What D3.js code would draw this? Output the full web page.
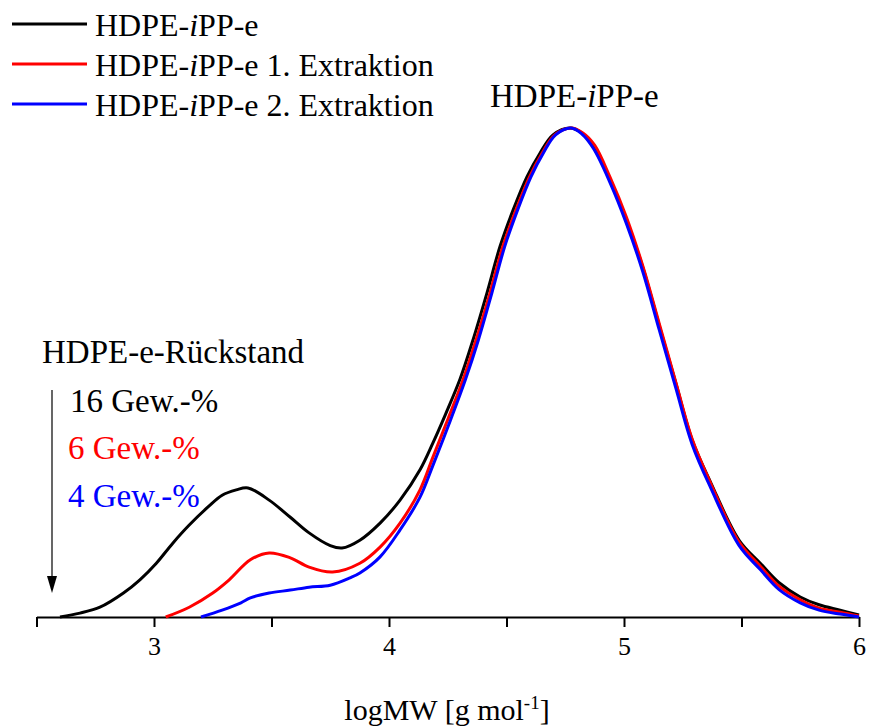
<!DOCTYPE html>
<html>
<head>
<meta charset="utf-8">
<script src="https://cdn.jsdelivr.net/npm/d3@7"></script>
<style>
  body { margin: 0; background: #fff; }
  text { font-family: "Liberation Serif", "Times New Roman", serif; }
</style>
</head>
<body>
<svg id="chart"></svg>
<script>
// logMW values, w(logM) normalised to main peak = 1
const blackX = [2.60, 2.685, 2.77, 2.87, 2.94, 3.01, 3.08, 3.15, 3.23, 3.29, 3.35, 3.40, 3.49, 3.58, 3.66, 3.75, 3.80, 3.876, 3.962, 4.047, 4.132, 4.187, 4.24, 4.302, 4.357, 4.417, 4.472, 4.528, 4.587, 4.643, 4.698, 4.77, 4.82, 4.87, 4.94, 5.01, 5.08, 5.15, 5.22, 5.29, 5.37, 5.49, 5.58, 5.66, 5.75, 5.83, 5.92, 6.0];
const blackY = [0.0, 0.008, 0.020, 0.049, 0.076, 0.110, 0.151, 0.188, 0.225, 0.249, 0.260, 0.264, 0.239, 0.204, 0.172, 0.146, 0.141, 0.157, 0.192, 0.239, 0.301, 0.356, 0.414, 0.486, 0.566, 0.663, 0.757, 0.832, 0.900, 0.949, 0.986, 1.0, 0.99, 0.961, 0.894, 0.812, 0.715, 0.596, 0.479, 0.362, 0.274, 0.157, 0.110, 0.070, 0.041, 0.025, 0.014, 0.004];

const redX = [3.05, 3.15, 3.25, 3.32, 3.41, 3.49, 3.58, 3.66, 3.76, 3.876, 3.962, 4.047, 4.132, 4.187, 4.251, 4.315, 4.370, 4.430, 4.484, 4.540, 4.598, 4.652, 4.705, 4.775, 4.825, 4.875, 4.94, 5.01, 5.08, 5.15, 5.22, 5.29, 5.37, 5.49, 5.58, 5.66, 5.75, 5.83, 5.92, 6.0];
const redY = [0.0, 0.020, 0.049, 0.076, 0.117, 0.131, 0.121, 0.102, 0.092, 0.110, 0.143, 0.192, 0.260, 0.327, 0.405, 0.485, 0.566, 0.663, 0.757, 0.832, 0.900, 0.949, 0.986, 1.0, 0.99, 0.965, 0.900, 0.818, 0.718, 0.600, 0.481, 0.364, 0.272, 0.153, 0.104, 0.063, 0.035, 0.018, 0.010, 0.002];

const blueX = [3.20, 3.29, 3.37, 3.41, 3.49, 3.58, 3.66, 3.75, 3.834, 3.876, 3.962, 4.047, 4.132, 4.187, 4.262, 4.325, 4.380, 4.438, 4.492, 4.547, 4.604, 4.657, 4.709, 4.775, 4.82, 4.87, 4.94, 5.01, 5.08, 5.15, 5.22, 5.29, 5.37, 5.49, 5.58, 5.66, 5.75, 5.83, 5.92, 6.0];
const blueY = [0.0, 0.014, 0.029, 0.039, 0.049, 0.055, 0.061, 0.065, 0.080, 0.090, 0.123, 0.178, 0.245, 0.310, 0.403, 0.485, 0.566, 0.663, 0.757, 0.832, 0.900, 0.949, 0.986, 1.0, 0.988, 0.958, 0.889, 0.805, 0.706, 0.587, 0.469, 0.353, 0.263, 0.146, 0.097, 0.056, 0.029, 0.014, 0.006, 0.0];

const seriesNames = ['HDPE-iPP-e', 'HDPE-iPP-e 1. Extraktion', 'HDPE-iPP-e 2. Extraktion'];
const seriesColors = ['#000000', '#ff0000', '#0000ff'];
const xTicks = [2.5, 3, 3.5, 4, 4.5, 5, 5.5, 6];
const residueLabels = ['16 Gew.-%', '6 Gew.-%', '4 Gew.-%'];

const width = 869, height = 728;
const svg = d3.select('#chart').attr('width', width).attr('height', height);

const x = d3.scaleLinear().domain([2.5, 6]).range([36.5, 859]);
const y = d3.scaleLinear().domain([0, 1]).range([617, 128]);

// x axis
const xAxis = d3.axisBottom(x)
  .tickValues(xTicks)
  .tickSize(10)
  .tickSizeOuter(0)
  .tickPadding(10)
  .tickFormat(d => Number.isInteger(d) ? d : '');

const gx = svg.append('g')
  .attr('transform', 'translate(0,617)')
  .call(xAxis);
gx.select('.domain').attr('stroke', '#000').attr('stroke-width', 2);
gx.selectAll('.tick line').attr('stroke', '#000').attr('stroke-width', 2);
gx.selectAll('.tick text')
  .attr('fill', '#000')
  .style('font-family', '"Liberation Serif", serif')
  .style('font-size', '26px');

// axis title
const title = svg.append('text')
  .attr('x', 447)
  .attr('y', 720)
  .attr('text-anchor', 'middle')
  .attr('font-size', 30)
  .attr('fill', '#000');
title.append('tspan').text('logMW [g mol');
title.append('tspan').attr('font-size', 19).attr('dy', -11).text('-1');
title.append('tspan').attr('dy', 11).text(']');

// curves
const line = d3.line()
  .x(d => x(d[0]))
  .y(d => y(d[1]))
  .curve(d3.curveCatmullRom.alpha(0.5));

const series = [
  d3.zip(blackX, blackY),
  d3.zip(redX, redY),
  d3.zip(blueX, blueY)
];

series.forEach((s, i) => {
  svg.append('path')
    .datum(s)
    .attr('fill', 'none')
    .attr('stroke', seriesColors[i])
    .attr('stroke-width', 3)
    .attr('stroke-linejoin', 'round')
    .attr('d', line);
});

// legend
const legendY = [24, 64, 104];
seriesNames.forEach((name, i) => {
  svg.append('line')
    .attr('x1', 12).attr('x2', 87)
    .attr('y1', legendY[i]).attr('y2', legendY[i])
    .attr('stroke', seriesColors[i])
    .attr('stroke-width', 3);
  const t = svg.append('text')
    .attr('x', 95)
    .attr('y', legendY[i] + 11.5)
    .attr('font-size', 32)
    .attr('fill', '#000');
  t.append('tspan').text('HDPE-');
  t.append('tspan').attr('font-style', 'italic').text('i');
  t.append('tspan').text(name.slice(6));
});

// peak label
const peak = svg.append('text')
  .attr('x', 490).attr('y', 107)
  .attr('font-size', 33)
  .attr('fill', '#000');
peak.append('tspan').text('HDPE-');
peak.append('tspan').attr('font-style', 'italic').text('i');
peak.append('tspan').text('PP-e');

// residue annotation
svg.append('text')
  .attr('x', 42).attr('y', 363)
  .attr('font-size', 33)
  .attr('fill', '#000')
  .text('HDPE-e-Rückstand');

const residueY = [412, 459, 507];
const residueX = [70, 68, 68];
residueLabels.forEach((lbl, i) => {
  svg.append('text')
    .attr('x', residueX[i]).attr('y', residueY[i])
    .attr('font-size', 33)
    .attr('fill', seriesColors[i])
    .text(lbl);
});

// arrow
svg.append('line')
  .attr('x1', 52).attr('x2', 52)
  .attr('y1', 390).attr('y2', 580)
  .attr('stroke', '#000')
  .attr('stroke-width', 1.2);
svg.append('path')
  .attr('d', 'M47,576 L52,593 L57,576 Z')
  .attr('fill', '#000');
</script>
</body>
</html>
